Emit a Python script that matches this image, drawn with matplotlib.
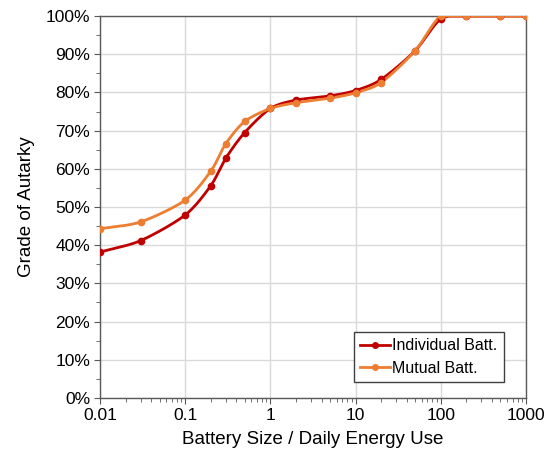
import numpy as np
import matplotlib
matplotlib.use("Agg")
import matplotlib.pyplot as plt
from matplotlib.ticker import FixedLocator, PercentFormatter, NullFormatter, LogLocator

plt.rcParams['font.family'] = ['Liberation Sans', 'DejaVu Sans']

# battery size / daily energy use
size = [0.01, 0.03, 0.1, 0.2, 0.3, 0.5, 1, 2, 5, 10, 20, 50, 100, 200, 500, 1000]
# grade of autarky in %
individual = [38.2, 41.2, 47.9, 55.6, 62.8, 69.5, 75.8, 78.0, 79.1, 80.5, 83.4, 90.9, 99.2, 100, 100, 100]
mutual = [44.3, 46.1, 51.8, 59.4, 66.6, 72.4, 75.8, 77.3, 78.5, 79.9, 82.6, 90.9, 100, 100, 100, 100]

RED = '#C00000'
ORANGE = '#ED7D31'


def smooth(xs, ys, n=30):
    # catmull-rom through the points, in log-x space (like excel smoothed lines)
    lx = np.log10(xs)
    y = np.asarray(ys, float)
    px = np.concatenate([[2*lx[0]-lx[1]], lx, [2*lx[-1]-lx[-2]]])
    py = np.concatenate([[2*y[0]-y[1]], y, [2*y[-1]-y[-2]]])
    outx, outy = [], []
    for i in range(1, len(px)-2):
        t = np.linspace(0, 1, n)
        for arr, out in ((px, outx), (py, outy)):
            p0, p1, p2, p3 = arr[i-1], arr[i], arr[i+1], arr[i+2]
            m1 = (p2 - p0) / 2 * 0.85
            m2 = (p3 - p1) / 2 * 0.85
            h00 = 2*t**3 - 3*t**2 + 1
            h10 = t**3 - 2*t**2 + t
            h01 = -2*t**3 + 3*t**2
            h11 = t**3 - t**2
            out.extend(h00*p1 + h10*m1 + h01*p2 + h11*m2)
    return 10**np.array(outx), np.array(outy)


fig = plt.figure(figsize=(5.6, 4.59), dpi=100)
ax = fig.add_axes([0.1786, 0.133, 0.7604, 0.832])

for ys, col, lab in ((individual, RED, 'Individual Batt.'), (mutual, ORANGE, 'Mutual Batt.')):
    sx, sy = smooth(size, ys)
    ax.plot(sx, np.clip(sy, 0, 100), color=col, lw=2, zorder=3)
    ax.plot(size, ys, 'o', color=col, ms=4.5, zorder=4)
    ax.plot([], [], '-o', color=col, lw=2, ms=4, label=lab)

ax.set_xscale('log')
ax.set_xlim(0.01, 1000)
ax.set_ylim(0, 100)
ax.xaxis.set_major_locator(FixedLocator([0.01, 0.1, 1, 10, 100, 1000]))
ax.set_xticklabels(['0.01', '0.1', '1', '10', '100', '1000'])
ax.xaxis.set_minor_locator(LogLocator(base=10, subs=np.arange(2, 10)))
ax.xaxis.set_minor_formatter(NullFormatter())
ax.set_yticks(np.arange(0, 101, 10))
ax.set_yticks(np.arange(5, 100, 10), minor=True)
ax.yaxis.set_major_formatter(PercentFormatter(decimals=0))

ax.grid(True, which='major', color='#d9d9d9', lw=1)
ax.set_axisbelow(True)
for s in ax.spines.values():
    s.set_color('#595959')
    s.set_linewidth(1)
ax.tick_params(which='both', direction='out', color='#595959', labelsize=12.5, labelcolor='#000000')
ax.tick_params(which='major', length=4, pad=3)
ax.tick_params(which='minor', length=3)

ax.set_xlabel('Battery Size / Daily Energy Use', fontsize=13.5, labelpad=6)
ax.set_ylabel('Grade of Autarky', fontsize=13.5, labelpad=8)

leg = ax.legend(loc='lower right', bbox_to_anchor=(0.948, 0.042), borderaxespad=0,
                fontsize=11.5, fancybox=False, edgecolor='#404040', framealpha=1,
                handlelength=1.9, handletextpad=0.1, borderpad=0.4, labelspacing=0.45)
leg.get_frame().set_linewidth(1)

fig.savefig('out.png', dpi=100)
